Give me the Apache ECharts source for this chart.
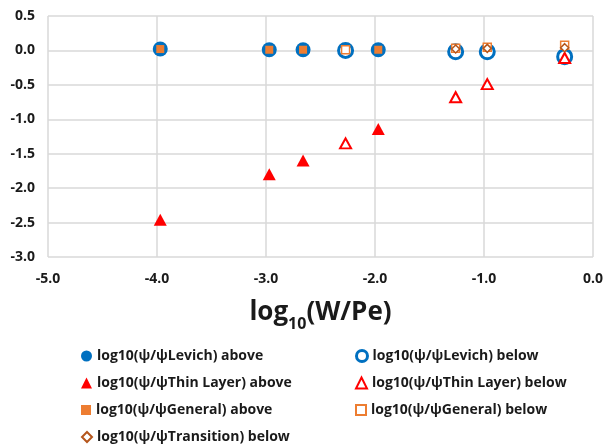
<!DOCTYPE html>
<html><head><meta charset="utf-8">
<script src="https://cdn.jsdelivr.net/npm/echarts@6/dist/echarts.min.js"></script>
<style>html,body{margin:0;padding:0;background:#fff}#c{width:606px;height:447px}</style>
</head><body><div id="c"></div>
<script>
// Data: [log10(W/Pe), log10(psi/psiRef)]
const levichAbove = [[-3.97, 0.02], [-2.97, 0.01], [-2.66, 0.01], [-1.97, 0.01]];
const levichBelow = [[-2.27, 0.0], [-1.26, -0.02], [-0.97, -0.02], [-0.26, -0.09]];
const thinAbove = [[-3.97, -2.46], [-2.97, -1.80], [-2.66, -1.60], [-1.97, -1.14]];
const thinBelow = [[-2.27, -1.35], [-1.26, -0.68], [-0.97, -0.49], [-0.26, -0.11]];
const generalAbove = [[-3.97, 0.02], [-2.97, 0.01], [-2.66, 0.01], [-1.97, 0.01]];
const generalBelow = [[-2.27, 0.01], [-1.26, 0.03], [-0.97, 0.045], [-0.26, 0.075]];
const transitionBelow = [[-1.26, 0.02], [-0.97, 0.03], [-0.26, 0.04]];
const xTicks = [-5, -4, -3, -2, -1, 0];
const yTicks = [-3, -2.5, -2, -1.5, -1, -0.5, 0, 0.5];

const names = {
  la: 'log10(ψ/ψLevich) above', lb: 'log10(ψ/ψLevich) below',
  ta: 'log10(ψ/ψThin Layer) above', tb: 'log10(ψ/ψThin Layer) below',
  ga: 'log10(ψ/ψGeneral) above', gb: 'log10(ψ/ψGeneral) below',
  tr: 'log10(ψ/ψTransition) below'
};
const FONT = 'Open Sans';
const BLUE = '#0070C0', RED = '#FF0000', ORANGE = '#ED7D31', BROWN = '#B5561C';

const legendText = {fontFamily: FONT, fontWeight: 'bold', fontSize: 14, color: '#1a1a1a', lineHeight: 16};
function leg(name, left, cy, w, h, bw) {
  const l = {orient: 'horizontal', left: left, top: cy - 8, padding: 0, itemWidth: w, itemHeight: h,
          textStyle: legendText, data: [name], selectedMode: false};
  if (bw) l.itemStyle = {borderWidth: bw};
  return l;
}

const chart = echarts.init(document.getElementById('c'), null, {renderer: 'canvas'});
chart.setOption({
  animation: false,
  grid: {left: 48, right: 8, top: 16, bottom: 190},
  xAxis: {
    type: 'value', min: xTicks[0], max: xTicks[xTicks.length - 1], interval: 1,
    axisLine: {show: false}, axisTick: {show: false},
    splitLine: {lineStyle: {color: '#d9d9d9', width: 1.5}},
    axisLabel: {formatter: v => v.toFixed(1), fontFamily: FONT, fontWeight: 'bold', fontSize: 14, color: '#1a1a1a', margin: 15},
    name: '{a|log}{b|10}{a|(W/Pe)}', nameLocation: 'middle', nameGap: 39,
    nameTextStyle: {
      rich: {
        a: {fontFamily: FONT, fontWeight: 'bold', fontSize: 26, color: '#1a1a1a', lineHeight: 30, verticalAlign: 'bottom'},
        b: {fontFamily: FONT, fontWeight: 'bold', fontSize: 16, color: '#1a1a1a', lineHeight: 30, verticalAlign: 'bottom', padding: [0, 0, -6, 0]}
      }
    }
  },
  yAxis: {
    type: 'value', min: yTicks[0], max: yTicks[yTicks.length - 1], interval: 0.5,
    axisLine: {show: false}, axisTick: {show: false},
    splitLine: {lineStyle: {color: '#d9d9d9', width: 1.5}},
    axisLabel: {formatter: v => v.toFixed(1), fontFamily: FONT, fontWeight: 'bold', fontSize: 14, color: '#1a1a1a', margin: 13}
  },
  legend: [
    leg(names.la, 81, 356, 11, 11),
    leg(names.ta, 81, 383, 11, 11),
    leg(names.ga, 81, 410, 10, 10),
    leg(names.tr, 81, 437, 10, 10),
    leg(names.lb, 355, 356, 11, 11, 3),
    leg(names.tb, 355, 383, 11, 11, 2),
    leg(names.gb, 355, 410, 10, 10, 2)
  ],
  series: [
    {name: names.la, type: 'scatter', data: levichAbove, symbol: 'circle', symbolSize: 15,
     itemStyle: {color: BLUE, opacity: 1}},
    {name: names.lb, type: 'scatter', data: levichBelow, symbol: 'circle', symbolSize: 14,
     itemStyle: {color: '#fff', borderColor: BLUE, borderWidth: 3, opacity: 1}},
    {name: names.ta, type: 'scatter', data: thinAbove, symbol: 'triangle', symbolSize: [13, 12],
     itemStyle: {color: RED, opacity: 1}},
    {name: names.tb, type: 'scatter', data: thinBelow, symbol: 'triangle', symbolSize: [11, 10],
     itemStyle: {color: '#fff', borderColor: RED, borderWidth: 2, opacity: 1}},
    {name: names.ga, type: 'scatter', data: generalAbove, symbol: 'rect', symbolSize: 8,
     itemStyle: {color: ORANGE, opacity: 1}},
    {name: names.gb, type: 'scatter', data: generalBelow, symbol: 'rect', symbolSize: 8,
     itemStyle: {color: '#fff', borderColor: ORANGE, borderWidth: 1.5, opacity: 1}},
    {name: names.tr, type: 'scatter', data: transitionBelow, symbol: 'diamond', symbolSize: [8, 8],
     itemStyle: {color: '#fff', borderColor: BROWN, borderWidth: 1.5, opacity: 1}}
  ]
});
</script></body></html>
